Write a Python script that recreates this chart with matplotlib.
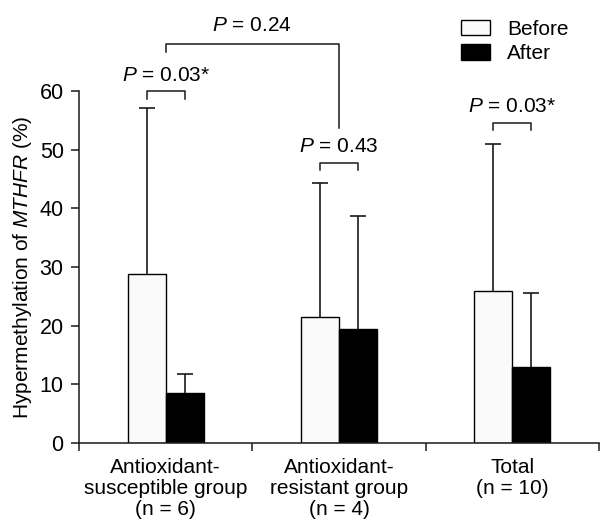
import matplotlib
matplotlib.use("Agg")
import matplotlib.pyplot as plt
from matplotlib.patches import Patch
import numpy as np

plt.rcParams['font.family'] = ['Liberation Sans', 'DejaVu Sans']
plt.rcParams['mathtext.fontset'] = 'custom'
plt.rcParams['mathtext.rm'] = 'Liberation Sans'
plt.rcParams['mathtext.it'] = 'Liberation Sans:italic'

categories = ["Antioxidant-\nsusceptible group\n(n = 6)",
              "Antioxidant-\nresistant group\n(n = 4)",
              "Total\n(n = 10)"]
before_mean = [28.8, 21.5, 25.9]
before_sd = [28.3, 22.8, 25.1]
after_mean = [8.6, 19.4, 13.0]
after_sd = [3.2, 19.3, 12.6]
pair_pvals = ["0.03*", "0.43", "0.03*"]
between_pval = "0.24"

fig = plt.figure(figsize=(6.01, 5.25), dpi=100)
ax = fig.add_axes([79/601, 1-443/525, 520/601, 352/525])

centers = np.arange(len(categories)) + 0.5
w = 0.219
xb = centers - w/2
xa = centers + w/2
lc = '#1a1a1a'

ax.bar(xb, before_mean, width=w, color='#fafafa', edgecolor='black', linewidth=1.0, zorder=2)
ax.bar(xa, after_mean, width=w, color='black', edgecolor='black', linewidth=1.0, zorder=2)
for xs, m, s in [(xb, before_mean, before_sd), (xa, after_mean, after_sd)]:
    m = np.array(m); s = np.array(s)
    ax.vlines(xs, m, m + s, color=lc, lw=1.2, zorder=1)
    ax.plot(xs, m + s, ls='none', marker='_', markersize=12, mew=1.2, color=lc, zorder=1)

ax.set_xlim(0, 3)
ax.set_ylim(0, 60)
ax.set_yticks(range(0, 61, 10))
ax.set_xticks([0, 1, 2, 3])
ax.set_xticklabels([])
ax.tick_params(axis='y', direction='out', length=6, width=1.1, labelsize=15.5, pad=5, colors=lc)
ax.tick_params(axis='x', direction='out', length=5.5, width=1.1, colors=lc)
ax.tick_params(axis='y', labelcolor='black')
for s in ['top', 'right']:
    ax.spines[s].set_visible(False)
for s in ['left', 'bottom']:
    ax.spines[s].set_linewidth(1.1)
    ax.spines[s].set_color(lc)

for c, lab in zip(centers, categories):
    ax.text(c, -2.6, lab, ha='center', va='top', fontsize=15, linespacing=1.12,
            transform=ax.transData)

ax.set_ylabel("Hypermethylation of $MTHFR$ (%)", fontsize=15, labelpad=4)

# paired brackets
bracket_y = [60.0, 47.8, 54.6]
for i in range(3):
    y = bracket_y[i]
    ax.plot([xb[i], xb[i], xa[i], xa[i]], [y - 1.3, y, y, y - 1.3], color=lc, lw=1.1, clip_on=False)
    ax.text(centers[i], y + 2.7, "$P$ = " + pair_pvals[i], ha='center', va='center',
            fontsize=15, clip_on=False)

# between-group bracket
yb = 68.0
ax.plot([centers[0], centers[0], centers[1], centers[1]], [66.6, yb, yb, 53.7], color=lc, lw=1.1, clip_on=False)
ax.text((centers[0] + centers[1]) / 2, yb + 3.1, "$P$ = " + between_pval, ha='center', va='center',
        fontsize=15, clip_on=False)

# legend
handles = [Patch(facecolor='#fafafa', edgecolor='black', linewidth=1.0, label='Before'),
           Patch(facecolor='black', edgecolor='black', linewidth=1.0, label='After')]
fig.legend(handles=handles, loc='upper left', bbox_to_anchor=(461/601, 1 - 20/525), frameon=False,
           fontsize=15, handlelength=1.4, handleheight=0.75, handletextpad=0.8, labelspacing=0.25,
           borderaxespad=0, borderpad=0)

fig.savefig("out.png", dpi=100)
